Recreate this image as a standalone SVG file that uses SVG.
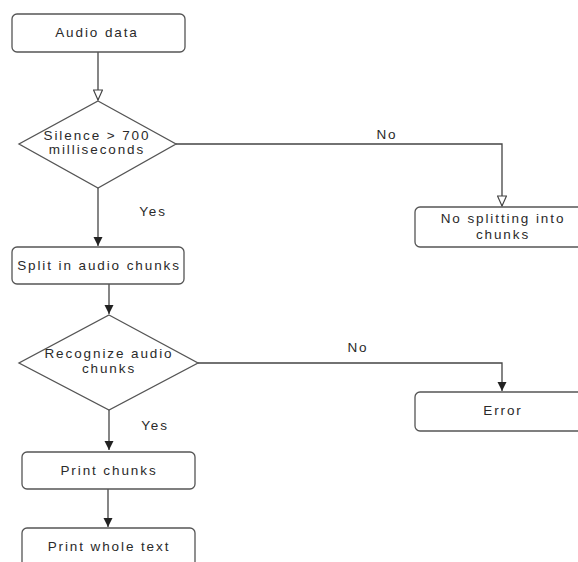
<svg xmlns="http://www.w3.org/2000/svg" width="578" height="562" viewBox="0 0 578 562">
<style>
.box{fill:#fff;stroke:#555;stroke-width:1.3}
.ln{fill:none;stroke:#444;stroke-width:1.3}
text{font-family:"Liberation Sans",Arial,sans-serif;font-size:13.5px;letter-spacing:1.9px;fill:#2a2a2a;text-anchor:middle}
</style>
<defs>
<marker id="open" markerWidth="12" markerHeight="10" refX="11" refY="5" orient="auto" markerUnits="userSpaceOnUse">
<path d="M1,0.5 L11,5 L1,9.5 Z" fill="#fff" stroke="#444" stroke-width="1.2"/>
</marker>
<marker id="fill" markerWidth="10" markerHeight="10" refX="9" refY="4.5" orient="auto" markerUnits="userSpaceOnUse">
<path d="M0,0 L9,4.5 L0,9 Z" fill="#222"/>
</marker>
</defs>
<rect width="578" height="562" fill="#fff"/>
<g id="connectors">
<path class="ln" d="M98,52 V100" marker-end="url(#open)"/>
<path class="ln" d="M176,144 H502 V206" marker-end="url(#open)"/>
<path class="ln" d="M98,188 V246" marker-end="url(#fill)"/>
<path class="ln" d="M109,284 V314" marker-end="url(#fill)"/>
<path class="ln" d="M198,363 H502 V391" marker-end="url(#fill)"/>
<path class="ln" d="M109,410 V450" marker-end="url(#fill)"/>
<path class="ln" d="M108,489 V527" marker-end="url(#fill)"/>
<text x="387" y="139">No</text>
<text x="153" y="216">Yes</text>
<text x="358" y="352">No</text>
<text x="155" y="430">Yes</text>
</g>
<g id="audio-data">
<rect class="box" x="12" y="14" width="173" height="38" rx="5"/>
<text x="97" y="37">Audio data</text>
</g>
<g id="silence">
<polygon class="box" points="98,101 176,144 98,188 19,144"/>
<text x="97" y="140">Silence &gt; 700</text>
<text x="97" y="154">milliseconds</text>
</g>
<g id="no-splitting">
<rect class="box" x="415" y="207" width="175" height="40" rx="5"/>
<text x="503" y="223">No splitting into</text>
<text x="503" y="239">chunks</text>
</g>
<g id="split">
<rect class="box" x="12" y="247" width="172" height="37" rx="5"/>
<text x="99" y="270">Split in audio chunks</text>
</g>
<g id="recognize">
<polygon class="box" points="109,315 198,363 109,410 19,363"/>
<text x="109" y="358">Recognize audio</text>
<text x="109" y="373">chunks</text>
</g>
<g id="error">
<rect class="box" x="415" y="392" width="175" height="39" rx="5"/>
<text x="503" y="415">Error</text>
</g>
<g id="print-chunks">
<rect class="box" x="22" y="452" width="173" height="37" rx="5"/>
<text x="109" y="475">Print chunks</text>
</g>
<g id="print-whole">
<rect class="box" x="22" y="528" width="173" height="40" rx="5"/>
<text x="109" y="551">Print whole text</text>
</g>
</svg>
